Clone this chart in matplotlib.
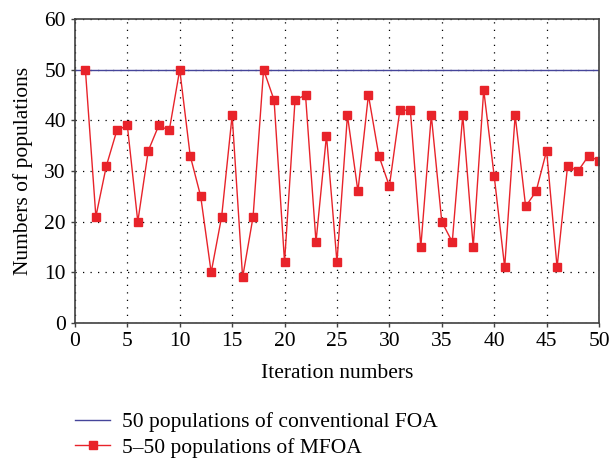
import matplotlib
matplotlib.use("Agg")
import matplotlib.pyplot as plt

iterations = list(range(1, 51))
mfoa = [50, 21, 31, 38, 39, 20, 34, 39, 38, 50,
        33, 25, 10, 21, 41, 9, 21, 50, 44, 12,
        44, 45, 16, 37, 12, 41, 26, 45, 33, 27,
        42, 42, 15, 41, 20, 16, 41, 15, 46, 29,
        11, 41, 23, 26, 34, 11, 31, 30, 33, 32]
foa = [50] * 50
foa_x = [0] + iterations
foa_y = [50] + foa

plt.rcParams['font.family'] = ['Liberation Serif', 'DejaVu Serif']

fig = plt.figure(figsize=(6.09, 4.61), dpi=100)
ax = fig.add_axes([0.123, 0.2993, 0.8606, 0.6595])

l1, = ax.plot(foa_x, foa_y, color='#45459a', lw=1.0,
              label='50 populations of conventional FOA')
l2, = ax.plot(iterations, mfoa, color='#e8232a', lw=1.0, marker='s',
              markersize=6.2, markerfacecolor='#e8232a', markeredgecolor='#e8232a',
              label='5–50 populations of MFOA')

ax.set_xlim(0, 50)
ax.set_ylim(0, 60)
ax.set_xticks(range(0, 51, 5))
ax.set_yticks(range(0, 61, 10))
ax.grid(True, color='black', linestyle=(0, (1, 5)), linewidth=0.9)
for s in ax.spines.values():
    s.set_color('#404040')
    s.set_linewidth(1.2)
ax.tick_params(direction='out', length=3, width=1, colors='#404040',
               labelcolor='black', labelsize=15.5)
ax.set_xlabel('Iteration numbers', fontsize=15.5, labelpad=9)
ax.set_ylabel('Numbers of populations', fontsize=15.5, labelpad=8)

fig.legend(handles=[l1, l2], loc='upper left', bbox_to_anchor=(0.123, 0.106),
           frameon=False, fontsize=15.5, handlelength=1.65, handletextpad=0.55,
           labelspacing=0.25, borderaxespad=0, borderpad=0)
fig.savefig('out.png', dpi=100)
